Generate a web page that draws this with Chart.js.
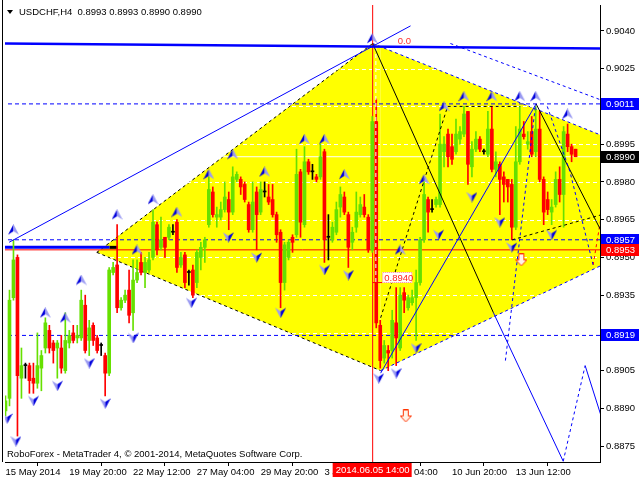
<!DOCTYPE html>
<html>
<head>
<meta charset="utf-8">
<script src="https://cdn.jsdelivr.net/npm/chart.js@4.4.1/dist/chart.umd.min.js"></script>
<style>
html, body { margin: 0; padding: 0; background: #fff; }
canvas { display: block; }
</style>
</head>
<body>
<canvas id="chart" width="640" height="480"></canvas>
<script>
// H4 candles, one entry per bar (index 0 = 15 May 2014 00:00)
var opens = [.8889,.8894,.8934,.8950,.8902,.8907,.8907,.8902,.8900,.8906,.8914,.8921,.8916,.8914,.8914,.8905,.8916,.8920,.8918,.8918,
  .8931,.8917,.8923,.8918,.8915,.8911,.8904,.8944,.8947,.8930,.8933,.8937,.8928,.8941,.8948,.8944,.8945,.8950,.8963,.8954,
  .8958,.8958,.8960,.8964,.8947,.8951,.8944,.8945,.8940,.8950,.8954,.8963,.8976,.8966,.8966,.8969,.8973,.8968,.8981,.8981,
  .8979,.8971,.8961,.8976,.8968,.8976,.8974,.8973,.8967,.8960,.8940,.8950,.8958,.8959,.8984,.8963,.8988,.8984,.8982,.8982,
  .8992,.8958,.8957,.8960,.8970,.8974,.8967,.8956,.8962,.8967,.8970,.8966,.8953,.9004,.8923,.8910,.8913,.8913,.8924,.8914,
  .8936,.8930,.8932,.8934,.8940,.8957,.8973,.8969,.8971,.8971,.8992,.8999,.8994,.8992,.8997,.8999,.9008,.8986,.8993,.8997,
  .8992,.8991,.9001,.8985,.8987,.8982,.8981,.8979,.8962,.8988,.8999,.8995,.9000,.8992,.9001,.8981,.8973,.8968,.8971,.8981,
  .8975,.8999,.8994,.8993];
var highs = [.8895,.8937,.8957,.8951,.8914,.8908,.8908,.8908,.8920,.8913,.8926,.8923,.8917,.8917,.8919,.8928,.8921,.8923,.8923,.8937,
  .8935,.8925,.8924,.8919,.8916,.8912,.8946,.8948,.8963,.8934,.8937,.8945,.8949,.8949,.8952,.8950,.8952,.8969,.8964,.8966,
  .8958,.8963,.8963,.8965,.8952,.8952,.8945,.8947,.8953,.8956,.8958,.8982,.8978,.8970,.8972,.8980,.8976,.8986,.8984,.8982,
  .8980,.8972,.8980,.8978,.8980,.8980,.8979,.8979,.8968,.8961,.8956,.8957,.8959,.8993,.8985,.8994,.8989,.8987,.8983,.8995,
  .8993,.8967,.8964,.8972,.8978,.8976,.8968,.8962,.8976,.8974,.8975,.8967,.9006,.9013,.8925,.8917,.8915,.8929,.8938,.8938,
  .8938,.8935,.8937,.8945,.8958,.8980,.8974,.8973,.8974,.9007,.8998,.9001,.8999,.9005,.9002,.9010,.9008,.8996,.9000,.8998,
  .8993,.9008,.9010,.8992,.8988,.8984,.8981,.8981,.9002,.9010,.9004,.9000,.9006,.9010,.9008,.8982,.8976,.8973,.8984,.8986,
  .9002,.9003,.8995,.8993];
var lows = [.8887,.8891,.8933,.8879,.8894,.8902,.8896,.8896,.8898,.8897,.8912,.8912,.8908,.8902,.8904,.8904,.8914,.8916,.8916,.8917,
  .8912,.8911,.8915,.8912,.8911,.8895,.8903,.8943,.8928,.8929,.8932,.8924,.8921,.8940,.8943,.8938,.8944,.8949,.8951,.8953,
  .8950,.8957,.8959,.8944,.8946,.8938,.8939,.8934,.8938,.8945,.8948,.8962,.8966,.8962,.8965,.8968,.8961,.8967,.8980,.8975,
  .8972,.8960,.8960,.8953,.8967,.8974,.8971,.8966,.8956,.8930,.8937,.8949,.8952,.8958,.8958,.8962,.8983,.8981,.8980,.8981,
  .8948,.8949,.8956,.8959,.8966,.8967,.8946,.8953,.8960,.8966,.8966,.8952,.8952,.8922,.8906,.8908,.8905,.8910,.8907,.8913,
  .8928,.8929,.8931,.8917,.8939,.8956,.8960,.8968,.8970,.8970,.8986,.8986,.8987,.8991,.8995,.8998,.8979,.8982,.8992,.8992,
  .8991,.8990,.8984,.8982,.8967,.8972,.8972,.8957,.8961,.8987,.8997,.8993,.8990,.8990,.8980,.8963,.8967,.8963,.8970,.8972,
  .8962,.8992,.8988,.8990];
var closes = [.8893,.8933,.8949,.8903,.8907,.8907,.8901,.8900,.8907,.8911,.8924,.8914,.8913,.8916,.8906,.8917,.8919,.8917,.8919,.8933,
  .8913,.8922,.8917,.8913,.8915,.8904,.8945,.8946,.8930,.8933,.8935,.8927,.8941,.8944,.8944,.8948,.8949,.8964,.8953,.8957,
  .8954,.8962,.8960,.8946,.8950,.8940,.8944,.8935,.8952,.8954,.8957,.8977,.8967,.8967,.8969,.8974,.8968,.8982,.8983,.8978,
  .8973,.8961,.8972,.8967,.8977,.8976,.8972,.8967,.8959,.8940,.8955,.8956,.8956,.8983,.8964,.8988,.8984,.8984,.8981,.8990,
  .8957,.8958,.8962,.8969,.8975,.8968,.8954,.8960,.8968,.8971,.8967,.8953,.9004,.8924,.8909,.8915,.8912,.8925,.8918,.8935,
  .8933,.8934,.8934,.8940,.8957,.8975,.8968,.8969,.8973,.8995,.8995,.8990,.8989,.8999,.9000,.9007,.8987,.8993,.8997,.8993,
  .8992,.9001,.8985,.8988,.8981,.8979,.8978,.8962,.8988,.9001,.8998,.8996,.8991,.9001,.8981,.8968,.8969,.8970,.8981,.8975,
  .9000,.8994,.8991,.8990];

var timeTicks = [0, 16, 32, 48, 64, 80, 96, 112, 128];
var timeLabels = ['15 May 2014', '19 May 20:00', '22 May 12:00', '27 May 04:00', '29 May 20:00',
  '3 Jun 12:00', '6 Jun 04:00', '10 Jun 20:00', '13 Jun 12:00'];
var priceTicks = [0.8875, 0.8890, 0.8905, 0.8920, 0.8935, 0.8950, 0.8965, 0.8980, 0.8995, 0.9010, 0.9025, 0.9040];

// fractal arrows [bar, price]
var fractalUp = [[2,.8961],[10,.8928],[15,.8926],[19,.8941],[28,.8967],[33,.8953],[37,.8973],[43,.8968],[51,.8983],[57,.8991],
  [65,.8984],[75,.8997],[80,.8997],[85,.8983],[92,.9037],[99,.8953],[105,.8981],[110,.9010],[115,.9014],[122,.9014],
  [129,.9014],[133,.9014],[141,.9007]];
var fractalDown = [[0.4,.8886],[2.6,.8877],[7,.8893],[13,.8899],[21,.8908],[25,.8892],[32,.8918],[46.6,.8932],[55.9,.8958],
  [63,.8950],[69,.8928],[80,.8945],[86,.8943],[93.6,.8902],[98,.8904],[103,.8914],[108.6,.8959],[117,.8974],[124,.8964],
  [127,.8954],[137,.8959]];
var signalDown = [[100.4,.8887],[129.4,.8949]];

// analysis objects drawn on the chart [bar, price]
var diamondTop = [[22.9,.8952],[92.1,.9035],[155,.8995]];
var diamondLow = [[22.9,.8952],[94.1,.8905],[155,.8951]];
var blueSolid = [
  [[0.9,.8956],[101.6,.9042]],
  [[122.4,.8928],[139.9,.8869]],
  [[145.4,.8907],[150.4,.8882]],
  [[94.1,.8904],[133.1,.9011]]
];
var blueDashed = [
  [[139.9,.8869],[145.4,.8907]],
  [[125.4,.8909],[132.9,.9010]],
  [[135.9,.9010],[141.6,.8984],[147.4,.8947]],
  [[111.6,.9035],[152,.9011]]
];
var blackSolid = [
  [[92.1,.9035],[122.4,.8928]],
  [[133.1,.9011],[154.1,.8946]]
];
var blackDashed = [
  [[94.1,.8926],[110.9,.9010]],
  [[110.9,.9010],[129.1,.9010]],
  [[127.1,.8957],[154.1,.8969]]
];
var redDashed = [[147.4,.8947],[149.5,.8967]];
var channelTop = [[-1,.9035],[151,.9033]];
var channelStub = [[-1,.8954],[26.1,.8954]];
var channelStubEnd = [[26.1,.8954],[28.1,.8954]];
var blueLevels = [0.9011, 0.8957, 0.8919];
var redLevel = 0.8953;
var bidLevel = 0.8990;
var eventBar = 92.1;
var fiboBar = 92.9;
var fiboPrice = 0.8940;
var markPrices = [0.9011, 0.8990, 0.8957, 0.8953, 0.8919];
var markColors = ['#0000ff', '#000000', '#0000ff', '#ff0000', '#0000ff'];

var xMin = -0.125, xMax = 149.125;
var yMin = 0.88687, yMax = 0.90503;

function pts(a) {
  return a.map(function(p) { return {x: p[0], y: p[1]}; });
}

function lineSet(points, color, width, dash, order) {
  return {
    type: 'line', data: pts(points), borderColor: color, borderWidth: width,
    borderDash: dash || [], pointRadius: 0, fill: false, tension: 0, order: order
  };
}

function makeArrow(up) {
  var c = document.createElement('canvas');
  c.width = 11; c.height = 11;
  var g = c.getContext('2d');
  var dark = '#0000dd', light = '#9c9cf2';
  if (up) {
    g.fillStyle = dark;
    g.beginPath(); g.moveTo(5.5, 0); g.lineTo(0, 10.5); g.lineTo(5.5, 7); g.closePath(); g.fill();
    g.fillStyle = light;
    g.beginPath(); g.moveTo(5.5, 0); g.lineTo(11, 10.5); g.lineTo(5.5, 7); g.closePath(); g.fill();
  } else {
    g.fillStyle = light;
    g.beginPath(); g.moveTo(5.5, 11); g.lineTo(0, 0.5); g.lineTo(5.5, 4); g.closePath(); g.fill();
    g.fillStyle = dark;
    g.beginPath(); g.moveTo(5.5, 11); g.lineTo(11, 0.5); g.lineTo(5.5, 4); g.closePath(); g.fill();
  }
  return c;
}

function makeSignal() {
  var c = document.createElement('canvas');
  c.width = 12; c.height = 13;
  var g = c.getContext('2d');
  g.beginPath();
  g.moveTo(3.5, 0.5); g.lineTo(8.5, 0.5); g.lineTo(8.5, 6.5); g.lineTo(11.5, 6.5);
  g.lineTo(6, 12.5); g.lineTo(0.5, 6.5); g.lineTo(3.5, 6.5); g.closePath();
  g.fillStyle = '#fff4e8'; g.fill();
  g.strokeStyle = '#ff3300'; g.lineWidth = 1; g.stroke();
  return c;
}

var bull = '#66e000', bear = '#ff0000', flat = '#000000';
var wickData = [], bodyData = [], candleColors = [];
for (var i = 0; i < opens.length; i++) {
  var col = closes[i] > opens[i] ? bull : (closes[i] < opens[i] ? bear : flat);
  candleColors.push(col);
  wickData.push({x: i, y: [lows[i], highs[i]]});
  bodyData.push({x: i, y: [Math.min(opens[i], closes[i]), Math.max(opens[i], closes[i])]});
}

var datasets = [];
// yellow diamond
datasets.push({
  type: 'line', label: 'diamondTop', data: pts(diamondTop), borderWidth: 1, borderDash: [3, 3],
  segment: { borderColor: function(ctx) { return ctx.p0DataIndex === 0 ? '#000000' : '#0000ff'; } },
  backgroundColor: '#ffff00', fill: '+1', pointRadius: 0, tension: 0, order: 100
});
datasets.push({
  type: 'line', label: 'diamondLow', data: pts(diamondLow), borderWidth: 1, borderDash: [3, 3],
  segment: { borderColor: function(ctx) { return ctx.p0DataIndex === 0 ? '#000000' : '#0000ff'; } },
  fill: false, pointRadius: 0, tension: 0, order: 99
});
// levels
datasets.push(lineSet([[xMin - 1, bidLevel], [xMax + 1, bidLevel]], '#ffffff', 1, null, 90));
datasets.push(lineSet([[xMin - 1, redLevel], [xMax + 1, redLevel]], '#ff0000', 1, null, 89));
blueLevels.forEach(function(v) {
  datasets.push(lineSet([[xMin - 1, v], [xMax + 1, v]], '#0000ff', 1, [4, 3], 88));
});
datasets.push(lineSet(channelStub, '#0000ff', 3, null, 87));
datasets.push(lineSet(channelStubEnd, '#000000', 3, null, 87));
datasets.push(lineSet([[eventBar, yMin - 0.001], [eventBar, yMax + 0.001]], '#ff0000', 1, null, 86));
datasets.push(lineSet([[fiboBar, yMax], [fiboBar, fiboPrice]], '#ffffff', 1, [4, 3], 40));
datasets.push(lineSet([[eventBar, fiboPrice], [eventBar + 2.5, fiboPrice]], '#ff0000', 1, null, 40));
// candles
datasets.push({
  type: 'bar', data: wickData, backgroundColor: candleColors, borderWidth: 0,
  barThickness: 1, grouped: false, order: 60
});
datasets.push({
  type: 'bar', data: bodyData, backgroundColor: candleColors, borderWidth: 0,
  barThickness: 3, minBarLength: 1, grouped: false, order: 59
});
// trend lines
datasets.push(lineSet(channelTop, '#0000ff', 2.5, null, 30));
blueSolid.forEach(function(l) { datasets.push(lineSet(l, '#0000ff', 1, null, 30)); });
blueDashed.forEach(function(l) { datasets.push(lineSet(l, '#0000ff', 1, [3, 3], 30)); });
blackSolid.forEach(function(l) { datasets.push(lineSet(l, '#000000', 1, null, 30)); });
blackDashed.forEach(function(l) { datasets.push(lineSet(l, '#000000', 1, [3, 3], 30)); });
datasets.push(lineSet(redDashed, '#ff0000', 1, [3, 3], 30));
// arrows
datasets.push({ type: 'scatter', data: pts(fractalUp), pointStyle: makeArrow(true), order: 10 });
datasets.push({ type: 'scatter', data: pts(fractalDown), pointStyle: makeArrow(false), order: 10 });
datasets.push({ type: 'scatter', data: pts(signalDown), pointStyle: makeSignal(), order: 10 });

var fontName = '"Liberation Sans", Arial, sans-serif';

var mtPlugin = {
  id: 'mtPlugin',
  afterDatasetDraw: function(chart, args) {
    if (chart.data.datasets[args.index].label !== 'diamondLow') return;
    var ctx = chart.ctx, a = chart.chartArea, ys = chart.scales.y;
    ctx.save();
    ctx.beginPath(); ctx.rect(a.left, a.top, a.right - a.left, a.bottom - a.top); ctx.clip();
    ctx.strokeStyle = '#ffffff'; ctx.lineWidth = 1; ctx.setLineDash([4, 3]);
    priceTicks.forEach(function(v) {
      var y = Math.round(ys.getPixelForValue(v)) + 0.5;
      ctx.beginPath(); ctx.moveTo(a.left, y); ctx.lineTo(a.right, y); ctx.stroke();
    });
    ctx.restore();
  },
  afterDraw: function(chart) {
    var ctx = chart.ctx, a = chart.chartArea, xs = chart.scales.x, ys = chart.scales.y;
    ctx.save();
    // frame left side
    ctx.strokeStyle = '#000'; ctx.lineWidth = 1;
    ctx.beginPath(); ctx.moveTo(2.5, 0); ctx.lineTo(2.5, a.bottom); ctx.stroke();

    ctx.font = '9.5px ' + fontName;
    ctx.textBaseline = 'middle';
    // title
    ctx.fillStyle = '#000';
    ctx.beginPath(); ctx.moveTo(7, 10); ctx.lineTo(13, 10); ctx.lineTo(10, 14); ctx.closePath(); ctx.fill();
    ctx.textAlign = 'left';
    ctx.fillText('USDCHF,H4  0.8993 0.8993 0.8990 0.8990', 19, 12);
    ctx.fillText('RoboForex - MetaTrader 4, \u00a9 2001-2014, MetaQuotes Software Corp.', 7, 454);

    // price marks on the axis
    markPrices.forEach(function(v, k) {
      var y = Math.round(ys.getPixelForValue(v));
      ctx.fillStyle = markColors[k];
      ctx.fillRect(601, y - 6, 38, 12);
      ctx.fillStyle = '#fff';
      ctx.fillText(v.toFixed(4), 606, y);
    });

    // event time mark
    var ex = xs.getPixelForValue(eventBar);
    ctx.fillStyle = '#ff0000';
    ctx.fillRect(ex - 40, 463, 79, 14);
    ctx.fillStyle = '#fff';
    ctx.fillText('2014.06.05 14:00', ex - 37, 470.5);

    // fibo label
    var fx = xs.getPixelForValue(eventBar + 2.4), fy = Math.round(ys.getPixelForValue(fiboPrice));
    ctx.fillStyle = '#fff';
    ctx.fillRect(fx, fy - 11, 30, 11);
    ctx.strokeStyle = '#ff8080'; ctx.setLineDash([1, 1]);
    ctx.strokeRect(fx + 0.5, fy - 10.5, 29, 10);
    ctx.setLineDash([]);
    ctx.fillStyle = '#ff2020';
    ctx.fillText(fiboPrice.toFixed(4), fx + 2, fy - 5);

    // fibo 0.0 level text
    ctx.fillStyle = '#ff3030';
    ctx.fillText('0.0', xs.getPixelForValue(98.4), ys.getPixelForValue(0.9036));
    ctx.restore();
  }
};

var chart = new Chart(document.getElementById('chart').getContext('2d'), {
  type: 'line',
  data: { datasets: datasets },
  options: {
    responsive: false,
    animation: false,
    devicePixelRatio: 1,
    layout: { padding: { left: 3, top: 2, right: 0, bottom: 0 } },
    plugins: { legend: { display: false }, tooltip: { enabled: false } },
    scales: {
      x: {
        type: 'linear', min: xMin, max: xMax, offset: false,
        afterBuildTicks: function(s) { s.ticks = timeTicks.map(function(v) { return {value: v}; }); },
        afterFit: function(s) { s.height = 18; s.paddingLeft = 0; s.paddingRight = 0; },
        ticks: {
          align: 'start', padding: 1, maxRotation: 0, autoSkip: false, color: '#000',
          font: { family: fontName, size: 9.5 },
          callback: function(v, idx) { return timeLabels[idx]; }
        },
        grid: { drawOnChartArea: false, tickLength: 4, color: '#000' },
        border: { color: '#000' }
      },
      y: {
        type: 'linear', position: 'right', min: yMin, max: yMax,
        afterBuildTicks: function(s) { s.ticks = priceTicks.map(function(v) { return {value: v}; }); },
        afterFit: function(s) { s.width = 40; s.paddingTop = 0; s.paddingBottom = 0; },
        ticks: {
          padding: 2, autoSkip: false, color: '#000',
          font: { family: fontName, size: 9.5 },
          callback: function(v) { return v.toFixed(4); }
        },
        grid: { drawOnChartArea: false, tickLength: 4, color: '#000' },
        border: { color: '#000' }
      }
    }
  },
  plugins: [mtPlugin]
});
</script>
</body>
</html>
